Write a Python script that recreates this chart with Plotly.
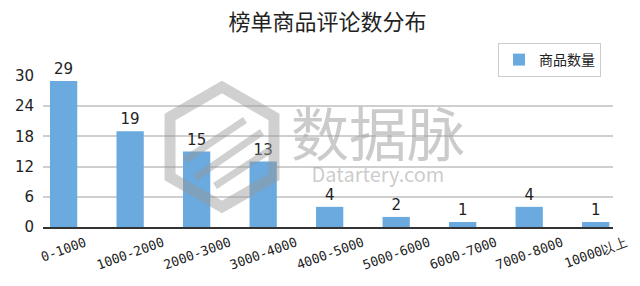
import plotly.graph_objects as go
import math

categories = ["0-1000", "1000-2000", "2000-3000", "3000-4000", "4000-5000",
              "5000-6000", "6000-7000", "7000-8000", "10000以上"]
counts = [29, 19, 15, 13, 4, 2, 1, 4, 1]
y_ticks = [0, 6, 12, 18, 24, 30]
series_name = "商品数量"
title_text = "榜单商品评论数分布"

W, H = 640, 286
L, R, T, B = 43, 27, 76, 59
PW, PH = W - L - R, H - T - B

def px(X):
    return (X - L) / PW

def py(Y):
    return (H - B - Y) / PH

xs = list(range(len(categories)))

fig = go.Figure()
fig.add_trace(go.Bar(
    x=xs, y=counts, name=series_name,
    marker=dict(color="#6aaadf", line=dict(width=0)),
    width=0.41,
    text=[str(v) for v in counts], textposition="outside",
    textfont=dict(size=15, color="#222222", family="DejaVu Sans"),
    cliponaxis=False, showlegend=True,
))

# watermark hexagon logo (decorative)
cx, cy, r = 222, 147, 60
pts = []
for k in range(6):
    a = math.radians(90 + 60 * k)
    pts.append((cx + r * math.cos(a), cy - r * math.sin(a)))
path = "M " + " L ".join(f"{px(x):.4f},{py(y):.4f}" for x, y in pts) + " Z"
shapes = [dict(type="path", path=path, xref="paper", yref="paper",
               line=dict(color="rgba(150,150,150,0.45)", width=11), layer="above")]
for (x0, y0, x1, y1) in [(185, 160, 245, 120), (195, 178, 262, 132), (215, 186, 270, 150)]:
    shapes.append(dict(type="line", xref="paper", yref="paper",
                       x0=px(x0), y0=py(y0), x1=px(x1), y1=py(y1),
                       line=dict(color="rgba(150,150,150,0.45)", width=7), layer="above"))

annotations = [
    dict(text="<span style='font-size:58px'>数据脉</span><br>Datartery.com",
         xref="paper", yref="paper", x=px(378), y=py(138),
         xanchor="center", yanchor="middle", align="center",
         showarrow=False, font=dict(size=20, color="rgba(160,160,160,0.55)",
                                    family="Noto Sans CJK SC")),
]
# rotated category labels: centred on the tick horizontally, top edge aligned
ang = math.radians(20)
for i, c in zip(xs, categories):
    length = sum(13.0 if ord(ch) > 0x2E80 else 7.8 for ch in c)
    h = length * math.sin(ang) + 13 * math.cos(ang)
    yc = 235 + h / 2
    annotations.append(dict(
        text=c, x=i, xref="x", y=py(yc), yref="paper",
        xanchor="center", yanchor="middle", textangle=-20, showarrow=False,
        font=dict(size=13, color="#222222", family="DejaVu Sans Mono")))

fig.update_layout(
    width=W, height=H,
    margin=dict(l=L, r=R, t=T, b=B, pad=0),
    paper_bgcolor="white", plot_bgcolor="white",
    title=dict(text=title_text, x=327.5 / W, xanchor="center", y=1 - 22 / H,
               yanchor="middle", yref="container",
               font=dict(size=22, color="#222222", family="Noto Sans CJK SC")),
    xaxis=dict(tickvals=xs, range=[-0.31, 8.26], showticklabels=False,
               showgrid=False, showline=True, linecolor="#333333", linewidth=1.5,
               ticks="", zeroline=False),
    yaxis=dict(range=[0, 30], tickvals=y_ticks, showgrid=True,
               gridcolor="#cfcfcf", gridwidth=1.5, zeroline=False, showline=False,
               tickfont=dict(size=15, color="#222222", family="DejaVu Sans"),
               ticks="", ticklabelstandoff=8),
    legend=dict(x=px(498), y=py(43), xanchor="left", yanchor="top",
                bordercolor="#cccccc", borderwidth=1, bgcolor="white",
                font=dict(size=14, color="#222222", family="Noto Sans CJK SC")),
    shapes=shapes, annotations=annotations,
)

fig.write_html("out.html")
